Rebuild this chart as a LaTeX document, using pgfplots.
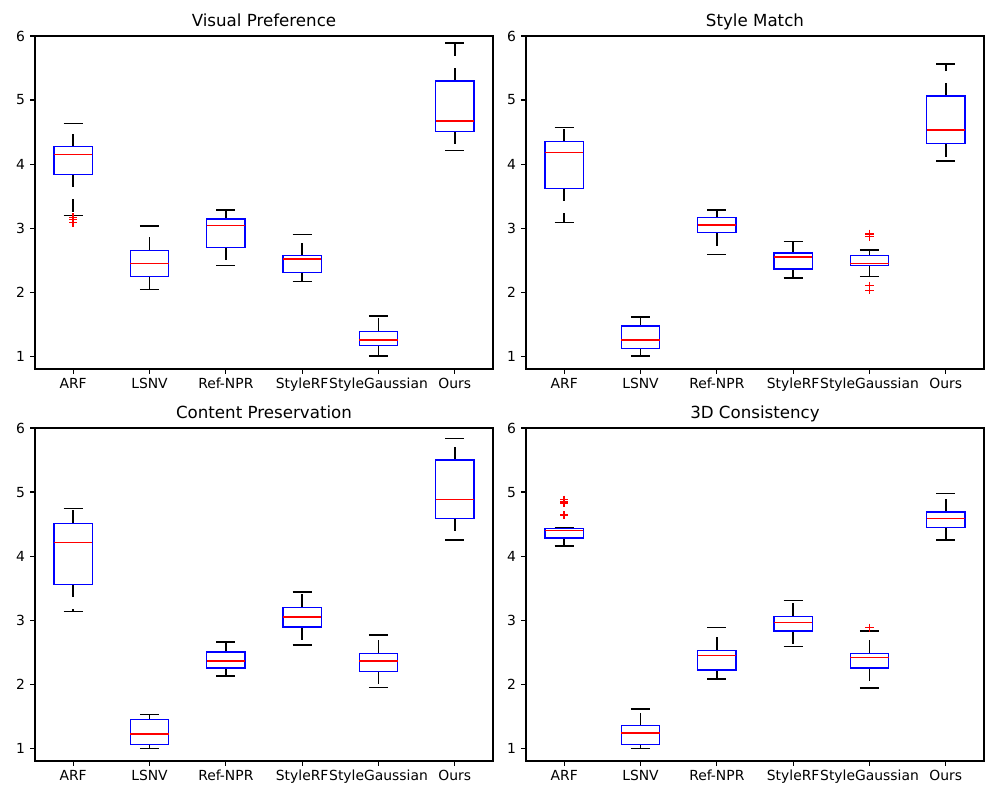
\documentclass[border=0pt]{standalone}
\usepackage{pgfplots}
\pgfplotsset{compat=1.18}
\usepgfplotslibrary{statistics}
\usepackage{fontspec}
\setmainfont{DejaVu Sans}

\pgfplotsset{
  mystyle/.style={
    width=329.76pt, height=239.76pt, scale only axis,
    anchor=south west,
    xmin=0.5, xmax=6.5, ymin=0.8, ymax=6,
    xtick={1,2,3,4,5,6},
    xticklabels={ARF,LSNV,Ref-NPR,StyleRF,StyleGaussian,Ours},
    ytick={1,2,3,4,5,6},
    tick align=outside, xtick pos=left, ytick pos=left,
    major tick length=3.5pt,
    tick style={black, line width=0.8pt},
    axis line style={line width=0.8pt},
    /pgf/number format/assume math mode=true,
    tick label style={font=\fontsize{10}{12}\selectfont},
    xticklabel style={anchor=base, inner sep=0pt, yshift=-10.8pt},
    yticklabel style={anchor=east, inner sep=0pt, xshift=-3.5pt},
    every axis title shift=0pt,
    title style={at={(0.5,1)}, anchor=base, yshift=6.5pt, inner sep=0pt, font=\fontsize{12}{14}\selectfont},
    boxplot/draw direction=y,
    boxplot/box extend=0.5,
    boxplot/whisker extend=0.25,
    boxplot/every box/.style={draw=blue, line width=1pt},
    boxplot/every median/.style={draw=red, line width=1pt},
    boxplot/draw/lower whisker/.code={%
      \draw[black, line width=1pt, dash pattern=on 9.4pt off 8.6pt]
        (boxplot box cs:\pgfplotsboxplotvalue{lower quartile},0.5) --
        (boxplot box cs:\pgfplotsboxplotvalue{lower whisker},0.5);
      \draw[black, line width=1pt]
        (boxplot whisker cs:\pgfplotsboxplotvalue{lower whisker},0) --
        (boxplot whisker cs:\pgfplotsboxplotvalue{lower whisker},1);
    },
    boxplot/draw/upper whisker/.code={%
      \draw[black, line width=1pt, dash pattern=on 9.4pt off 8.6pt]
        (boxplot box cs:\pgfplotsboxplotvalue{upper quartile},0.5) --
        (boxplot box cs:\pgfplotsboxplotvalue{upper whisker},0.5);
      \draw[black, line width=1pt]
        (boxplot whisker cs:\pgfplotsboxplotvalue{upper whisker},0) --
        (boxplot whisker cs:\pgfplotsboxplotvalue{upper whisker},1);
    },
  },
  bx/.style={draw=blue, line width=1pt, mark=+, mark size=3pt,
    mark options={draw=red, solid, line width=1pt}},
}

\newcommand{\bp}[6]{\addplot[bx, boxplot prepared={draw position=#1,
  lower whisker=#2, lower quartile=#3, median=#4, upper quartile=#5, upper whisker=#6}]}

\begin{document}
\begin{tikzpicture}
\useasboundingbox (0,0) rectangle (720pt,576pt);

% Visual Preference
\begin{axis}[mystyle, at={(25.2pt,310.32pt)}, title={Visual Preference}]
\bp{1}{3.20}{3.84}{4.15}{4.27}{4.63} table[row sep=\\,y index=0]{data\\ 3.17\\ 3.13\\ 3.09\\};
\bp{2}{2.04}{2.24}{2.45}{2.65}{3.03} coordinates {};
\bp{3}{2.42}{2.70}{3.04}{3.14}{3.28} coordinates {};
\bp{4}{2.17}{2.31}{2.52}{2.57}{2.90} coordinates {};
\bp{5}{1.00}{1.17}{1.25}{1.39}{1.63} coordinates {};
\bp{6}{4.21}{4.51}{4.67}{5.30}{5.89} coordinates {};
\end{axis}

% Style Match
\begin{axis}[mystyle, at={(378.72pt,310.32pt)}, title={Style Match}]
\bp{1}{3.09}{3.62}{4.18}{4.35}{4.57} coordinates {};
\bp{2}{1.00}{1.12}{1.25}{1.47}{1.61} coordinates {};
\bp{3}{2.59}{2.93}{3.05}{3.17}{3.28} coordinates {};
\bp{4}{2.22}{2.36}{2.55}{2.61}{2.79} coordinates {};
\bp{5}{2.24}{2.42}{2.45}{2.57}{2.66} table[row sep=\\,y index=0]{data\\ 2.91\\ 2.87\\ 2.10\\ 2.03\\};
\bp{6}{4.05}{4.32}{4.53}{5.06}{5.56} coordinates {};
\end{axis}

% Content Preservation
\begin{axis}[mystyle, at={(25.2pt,28.08pt)}, title={Content Preservation}]
\bp{1}{3.13}{3.56}{4.21}{4.51}{4.74} coordinates {};
\bp{2}{1.00}{1.06}{1.22}{1.45}{1.53} coordinates {};
\bp{3}{2.13}{2.25}{2.36}{2.50}{2.66} coordinates {};
\bp{4}{2.61}{2.89}{3.05}{3.20}{3.44} coordinates {};
\bp{5}{1.95}{2.20}{2.36}{2.48}{2.77} coordinates {};
\bp{6}{4.25}{4.59}{4.88}{5.50}{5.84} coordinates {};
\end{axis}

% 3D Consistency
\begin{axis}[mystyle, at={(378.72pt,28.08pt)}, title={3D Consistency}]
\bp{1}{4.16}{4.28}{4.40}{4.43}{4.45} table[row sep=\\,y index=0]{data\\ 4.88\\ 4.85\\ 4.83\\ 4.64\\};
\bp{2}{1.00}{1.06}{1.24}{1.35}{1.61} coordinates {};
\bp{3}{2.08}{2.22}{2.45}{2.53}{2.88} coordinates {};
\bp{4}{2.59}{2.83}{2.96}{3.06}{3.31} coordinates {};
\bp{5}{1.94}{2.25}{2.42}{2.48}{2.83} table[row sep=\\,y index=0]{data\\ 2.88\\};
\bp{6}{4.25}{4.45}{4.59}{4.69}{4.98} coordinates {};
\end{axis}
\end{tikzpicture}
\end{document}
